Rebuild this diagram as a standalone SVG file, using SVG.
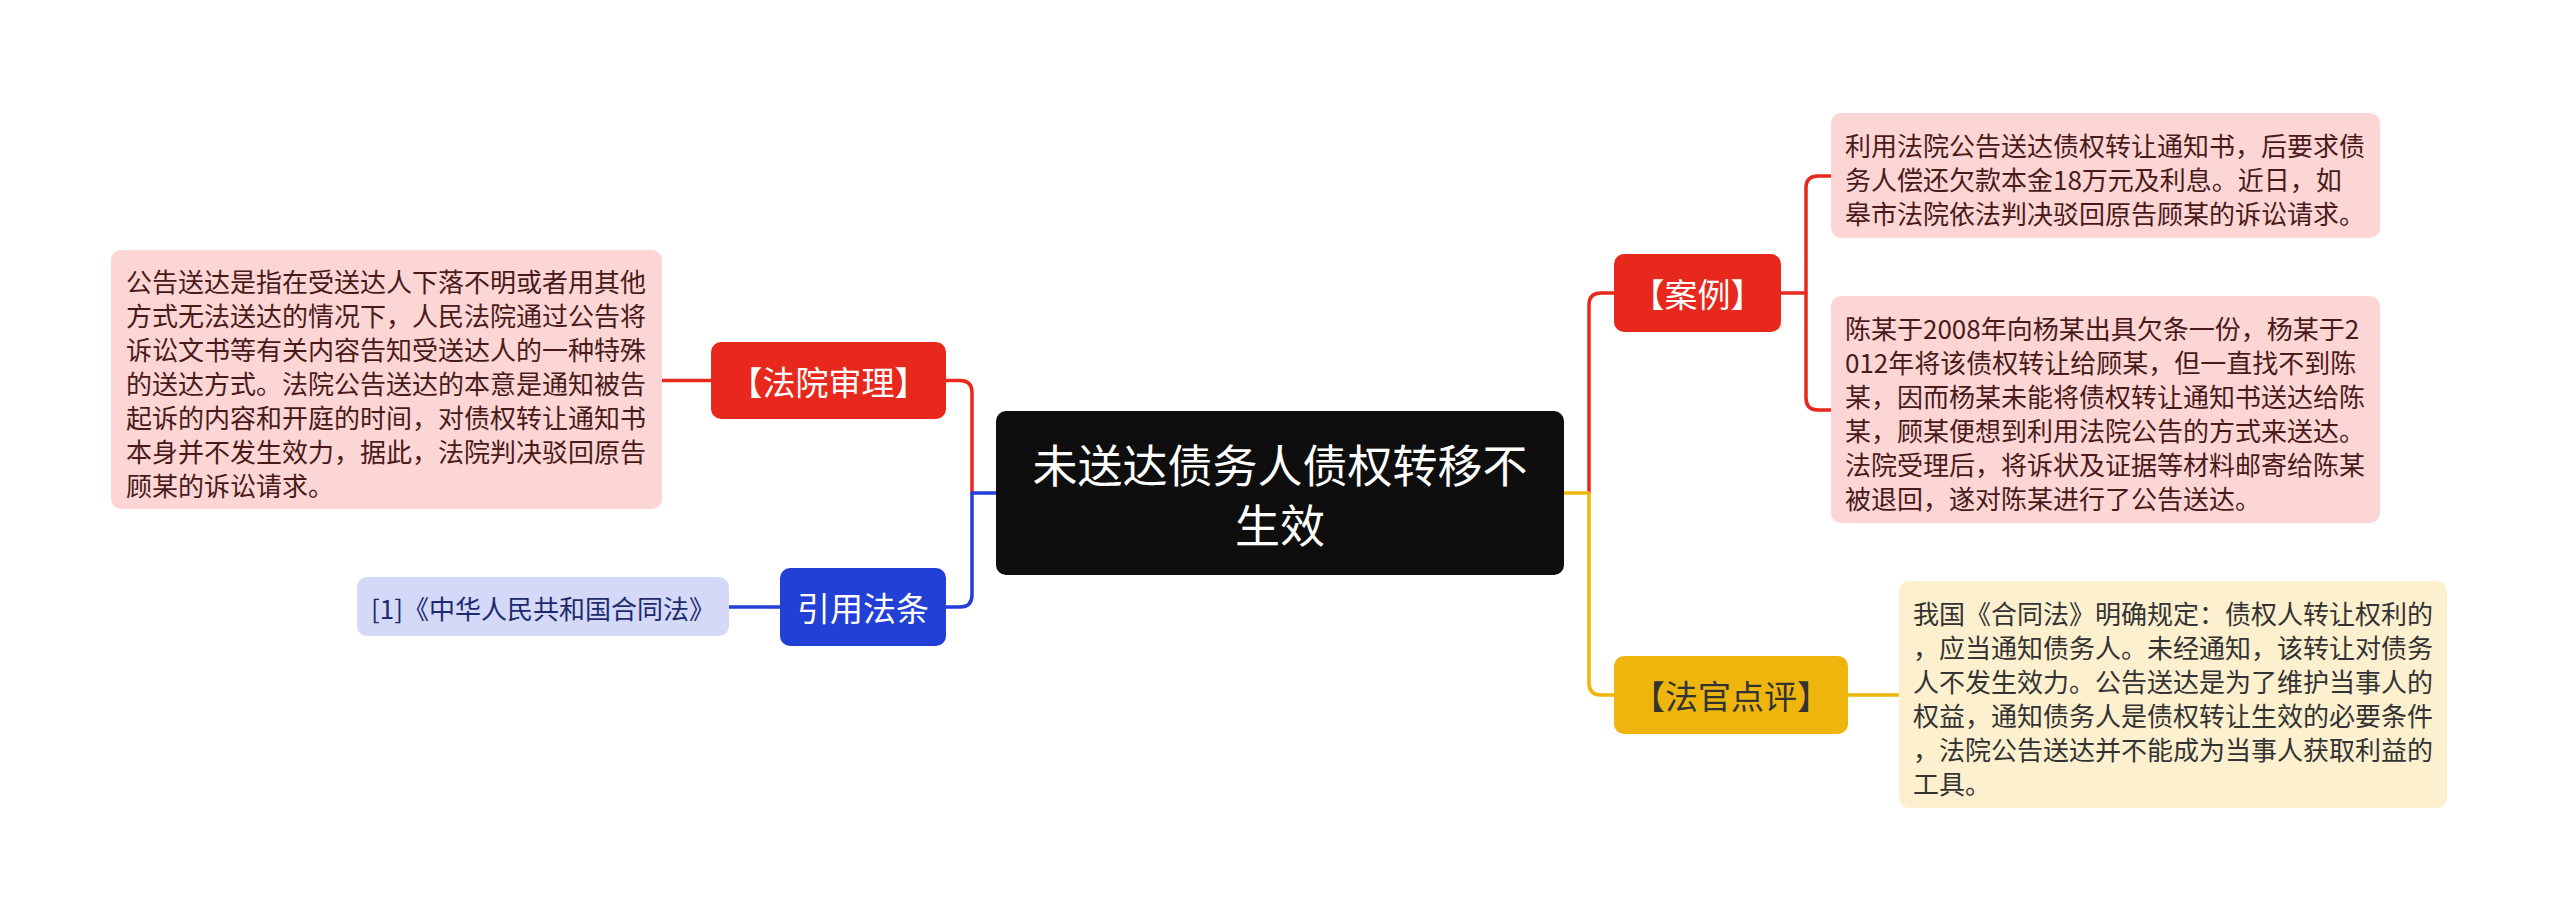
<svg xmlns="http://www.w3.org/2000/svg" width="2560" height="921" viewBox="0 0 2560 921">
<style>
text{font-family:"Noto Sans CJK SC","Noto Sans",sans-serif;dominant-baseline:central}
.body{font-size:26px}
.lbl{font-size:33px;text-anchor:middle}
.line{fill:none;stroke-width:3.5;stroke-linecap:round;stroke-linejoin:round}
</style>
<rect width="2560" height="921" fill="#ffffff"/>
<g id="connectors">
<path class="line" stroke="#e8281c" d="M662,380.5 H711"/>
<path class="line" stroke="#2340d6" d="M729,607 H780"/>
<path class="line" stroke="#e8281c" d="M946,380.5 H960 Q972,380.5 972,392.5 V493"/>
<path class="line" stroke="#2340d6" d="M946,607 H960 Q972,607 972,595 V493 H996"/>
<path class="line" stroke="#e8281c" d="M1589,493 V305 Q1589,293 1601,293 H1614"/>
<path class="line" stroke="#eeb60d" d="M1564,493 H1589 V683 Q1589,695 1601,695 H1614"/>
<path class="line" stroke="#e8281c" d="M1781,293 H1806"/>
<path class="line" stroke="#e8281c" d="M1831,176 H1818 Q1806,176 1806,188 V398 Q1806,410 1818,410 H1831"/>
<path class="line" stroke="#eeb60d" d="M1848,695 H1899"/>
</g>
<g id="center">
<rect x="996" y="411" width="568" height="164" rx="10" fill="#0e0e0e"/>
<text x="1280" y="463" fill="#ffffff" font-size="45" text-anchor="middle">未送达债务人债权转移不</text>
<text x="1280" y="523" fill="#ffffff" font-size="45" text-anchor="middle">生效</text>
</g>
<g id="court">
<rect x="711" y="342" width="235" height="77" rx="10" fill="#e8281c"/>
<text class="lbl" x="828.5" y="380.5" fill="#ffffff">【法院审理】</text>
</g>
<g id="court-text">
<rect x="111" y="250" width="551" height="259" rx="10" fill="#fcd6d5"/>
<g class="body" fill="#4a1a1a">
<text x="126" y="280.5">公告送达是指在受送达人下落不明或者用其他</text>
<text x="126" y="314.5">方式无法送达的情况下，人民法院通过公告将</text>
<text x="126" y="348.5">诉讼文书等有关内容告知受送达人的一种特殊</text>
<text x="126" y="382.5">的送达方式。法院公告送达的本意是通知被告</text>
<text x="126" y="416.5">起诉的内容和开庭的时间，对债权转让通知书</text>
<text x="126" y="450.5">本身并不发生效力，据此，法院判决驳回原告</text>
<text x="126" y="484.5">顾某的诉讼请求。</text>
</g>
</g>
<g id="law">
<rect x="780" y="568" width="166" height="78" rx="10" fill="#2340d6"/>
<text class="lbl" x="863" y="607" fill="#ffffff">引用法条</text>
</g>
<g id="law-text">
<rect x="357" y="577" width="372" height="59" rx="10" fill="#d3d9f6"/>
<text class="body" x="371" y="607" fill="#1e2a6e">[1]《中华人民共和国合同法》</text>
</g>
<g id="case">
<rect x="1614" y="254" width="167" height="78" rx="10" fill="#e8281c"/>
<text class="lbl" x="1697.5" y="293" fill="#ffffff">【案例】</text>
</g>
<g id="case-text-1">
<rect x="1831" y="113" width="549" height="125" rx="10" fill="#fcd6d5"/>
<g class="body" fill="#4a1a1a">
<text x="1845" y="144.5">利用法院公告送达债权转让通知书，后要求债</text>
<text x="1845" y="178.5">务人偿还欠款本金18万元及利息。近日，如</text>
<text x="1845" y="212.5">皋市法院依法判决驳回原告顾某的诉讼请求。</text>
</g>
</g>
<g id="case-text-2">
<rect x="1831" y="296" width="549" height="227" rx="10" fill="#fcd6d5"/>
<g class="body" fill="#4a1a1a">
<text x="1845" y="327.5">陈某于2008年向杨某出具欠条一份，杨某于2</text>
<text x="1845" y="361.5">012年将该债权转让给顾某，但一直找不到陈</text>
<text x="1845" y="395.5">某，因而杨某未能将债权转让通知书送达给陈</text>
<text x="1845" y="429.5">某，顾某便想到利用法院公告的方式来送达。</text>
<text x="1845" y="463.5">法院受理后，将诉状及证据等材料邮寄给陈某</text>
<text x="1845" y="497.5">被退回，遂对陈某进行了公告送达。</text>
</g>
</g>
<g id="judge">
<rect x="1614" y="656" width="234" height="78" rx="10" fill="#eeb60d"/>
<text class="lbl" x="1731" y="695" fill="#333333">【法官点评】</text>
</g>
<g id="judge-text">
<rect x="1899" y="581" width="548" height="227" rx="10" fill="#fdf0cf"/>
<g class="body" fill="#333333">
<text x="1913" y="612.5">我国《合同法》明确规定：债权人转让权利的</text>
<text x="1913" y="646.5">，应当通知债务人。未经通知，该转让对债务</text>
<text x="1913" y="680.5">人不发生效力。公告送达是为了维护当事人的</text>
<text x="1913" y="714.5">权益，通知债务人是债权转让生效的必要条件</text>
<text x="1913" y="748.5">，法院公告送达并不能成为当事人获取利益的</text>
<text x="1913" y="782.5">工具。</text>
</g>
</g>
</svg>
